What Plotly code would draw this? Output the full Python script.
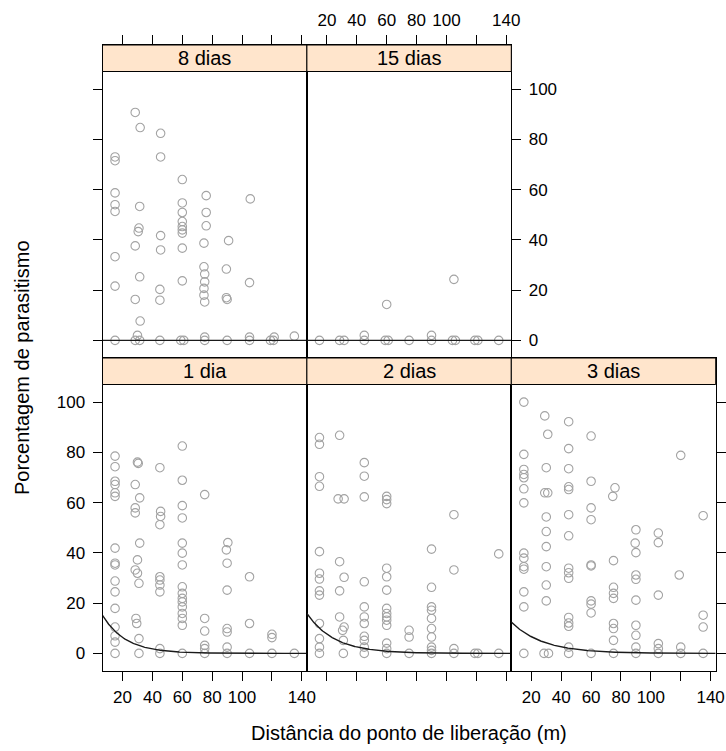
import numpy as np
import plotly.graph_objects as go

# ---------------- data ----------------
PANELS = ["1 dia", "2 dias", "3 dias", "8 dias", "15 dias"]

X_1DIA = ([15]*16 +
          [30, 30.5, 28.5, 31.5, 28.5, 28.5, 31.5, 30, 28.5, 30, 31, 29, 29.5, 31, 31] +
          [45, 45.5, 45.5, 45, 45, 45, 45, 45, 45, 45] +
          [60]*16 +
          [75]*6 +
          [90.5, 89.5, 90, 90, 90, 90, 90, 90] +
          [105]*3 + [120]*3 + [135])
Y_1DIA = ([78.5, 74.3, 68.5, 67.2, 63.9, 62.5, 41.9, 35.9, 35.2, 28.8, 24.5, 17.9, 10.5, 7, 4.5, 0] +
          [76.1, 75.6, 67.2, 61.9, 57.9, 55.9, 43.9, 37.2, 33.2, 31.9, 27.9, 13.9, 11.9, 5.9, 0] +
          [73.9, 56.5, 54.5, 51.2, 30.5, 29.2, 27.2, 24.5, 1.9, 0] +
          [82.5, 68.9, 58.8, 53.9, 43.9, 39.9, 35.2, 26.5, 23.9, 21.9, 20.5, 18.5, 15.9, 13.9, 11.2, 0] +
          [63.2, 13.9, 8.9, 3.2, 1.9, 0] +
          [44.1, 41.2, 35.9, 25.2, 9.9, 8.5, 2.5, 0] +
          [30.5, 11.9, 0] + [7.6, 6.3, 0] + [0])

X_2DIAS = ([15]*13 +
           [28.5, 27.5, 31.5, 28.5, 31.5, 28.5, 28.5, 31.5, 30.5, 31, 31] +
           [45]*11 +
           [60]*14 +
           [75]*3 +
           [90]*10 +
           [105]*4 + [119, 121] + [135, 135])
Y_2DIAS = ([85.9, 83.2, 70.3, 66.5, 40.5, 31.9, 29.6, 24.9, 23.2, 11.9, 5.9, 2.5, 0] +
           [86.8, 61.5, 61.5, 36.5, 30.3, 24.9, 14.5, 10.5, 9.2, 5.2, 0] +
           [75.9, 70.5, 62.3, 28.5, 18.5, 14.5, 11.9, 6.8, 5.2, 2.5, 0] +
           [62.5, 61.2, 59.6, 33.9, 30.5, 25.2, 17.9, 15.9, 14.5, 13.2, 11.2, 4.1, 1.9, 0] +
           [9.2, 6.5, 0] +
           [41.5, 26.3, 18.5, 17.2, 13.9, 9.9, 6.5, 2.5, 1.2, 0] +
           [55.2, 33.2, 1.9, 0] + [0, 0] + [39.6, 0])

X_3DIAS = ([15]*14 +
           [29, 31, 30, 29, 31, 30, 30, 30, 30, 30, 30, 28.5, 31.5] +
           [45]*15 +
           [60]*10 +
           [76, 74.5, 75, 75, 75, 75, 75, 75, 75, 75] +
           [90, 89.5, 90, 90, 90, 90, 90, 90, 90, 90] +
           [105]*6 + [120, 119, 120, 120] + [135]*4)
Y_3DIAS = ([100, 79.2, 73.2, 71.2, 69.9, 65.5, 59.9, 39.9, 37.9, 34.5, 33.5, 24.5, 18.5, 0] +
           [94.5, 87.2, 73.9, 63.9, 63.9, 54.3, 48.5, 42.5, 34.5, 27.2, 20.9, 0, 0] +
           [92.2, 81.5, 73.5, 66.3, 65.2, 55.2, 46.8, 33.9, 32.1, 29.9, 14.3, 12.1, 10.8, 2.5, 0] +
           [86.5, 68.5, 57.9, 53.2, 35.2, 34.8, 20.9, 19.6, 16.1, 0] +
           [65.9, 62.5, 36.9, 26.3, 23.9, 21.9, 11.9, 9.9, 5.2, 0] +
           [49.2, 43.9, 40.1, 31.2, 29.5, 21.2, 11.2, 7.2, 2.5, 0] +
           [47.9, 44.1, 23.2, 3.9, 1.9, 0] + [78.8, 31.2, 2.5, 0] + [54.8, 15.2, 10.5, 0])

X_8DIAS = ([15]*8 +
           [28.5, 31.8, 31.5, 31, 30.5, 28.5, 31.5, 28.5, 31.8, 30, 28.5, 31.5] +
           [45.5, 45.5, 45.5, 45.5, 45, 45, 45] +
           [60, 60, 60, 60, 60, 60, 60, 60, 60, 59, 61] +
           [76, 76, 76, 74.5, 74.5, 75, 75, 74.5, 74.5, 75, 75, 75] +
           [91, 89.5, 89.5, 90, 90] +
           [105.5, 105, 105, 105] + [121.5, 119, 121] + [135])
Y_8DIAS = ([73, 71.5, 58.7, 54, 51.3, 33.3, 21.6, 0] +
           [90.7, 84.7, 53.3, 44.7, 43.3, 37.6, 25.3, 16.3, 7.7, 2, 0, 0] +
           [82.4, 73, 41.7, 36, 20.3, 16, 0] +
           [64, 54.7, 50.9, 47.3, 45.3, 44, 42.7, 36.7, 23.7, 0, 0] +
           [57.6, 50.9, 45.6, 38.7, 29.3, 26.4, 23.3, 20.7, 18, 15.3, 1.3, 0] +
           [39.7, 28.4, 17, 16.3, 0] +
           [56.3, 23, 1.3, 0] + [1.3, 0, 0] + [1.7])

X_15DIAS = [15, 28.5, 31.5, 45, 45, 59, 61, 60, 75, 90, 90, 104, 106, 105, 119, 121, 135]
Y_15DIAS = [0, 0, 0, 0, 2, 0, 0, 14.3, 0, 0, 2, 0, 0, 24.3, 0, 0, 0]

# fitted decay curves  y = a * exp(-b * x)  (a = 0 -> flat line at zero)
FIT_A = [23.3, 22.8, 17.0, 0.0, 0.0]
FIT_B = [0.065, 0.0547, 0.047, 0.0, 0.0]

TICK_VALS = [20, 40, 60, 80, 100, 120, 140]
TICK_TEXT = ["20", "40", "60", "80", "100", "", "140"]
Y_TICKS = [0, 20, 40, 60, 80, 100]

XS = [X_1DIA, X_2DIAS, X_3DIAS, X_8DIAS, X_15DIAS]
YS = [Y_1DIA, Y_2DIAS, Y_3DIAS, Y_8DIAS, Y_15DIAS]

# ---------------- layout geometry (pixels) ----------------
W, H = 726, 751
COL_L = [102.5, 306.9, 511.3]
COL_W = 204.4
TOP_STRIP_TOP = 45.0
STRIP_H = 26.5
ROW_SPLIT = 358.0
BOTTOM = 671.0
PANEL_H = BOTTOM - ROW_SPLIT - STRIP_H

XMIN, XMAX = 6.6, 143.4
YMIN, YMAX = -7.0, 107.0
YMAX_EXT = YMAX + (YMAX - YMIN) * STRIP_H / PANEL_H

POS = [(0, 1), (1, 1), (2, 1), (0, 0), (1, 0)]  # (col, row) row 0 = top

FONT = "Liberation Sans, Arial, sans-serif"
PT_COLOR = "#a3a3a3"

fig = go.Figure()
layout = dict(width=W, height=H, margin=dict(l=0, r=0, t=0, b=0, pad=0),
              paper_bgcolor="white", plot_bgcolor="white", showlegend=False,
              font=dict(family=FONT, color="black"))
shapes, annotations = [], []

xgrid = np.linspace(XMIN, XMAX, 300)
for i, name in enumerate(PANELS):
    n = i + 1
    sfx = "" if n == 1 else str(n)
    col, row = POS[i]
    x0 = COL_L[col] / W
    x1 = (COL_L[col] + COL_W) / W
    if row == 0:
        ytop, ybot = TOP_STRIP_TOP, ROW_SPLIT
    else:
        ytop, ybot = ROW_SPLIT, BOTTOM
    yd = [1 - ybot / H, 1 - ytop / H]

    fig.add_trace(go.Scatter(x=XS[i], y=YS[i], mode="markers",
                             marker=dict(symbol="circle-open", size=8.5,
                                         color=PT_COLOR, line=dict(width=1.1, color=PT_COLOR)),
                             xaxis="x" + sfx, yaxis="y" + sfx, hoverinfo="skip"))
    fig.add_trace(go.Scatter(x=xgrid, y=FIT_A[i] * np.exp(-FIT_B[i] * xgrid), mode="lines",
                             line=dict(color="#1a1a1a", width=1.4),
                             xaxis="x" + sfx, yaxis="y" + sfx, hoverinfo="skip"))

    xa = dict(domain=[x0, x1], range=[XMIN, XMAX], anchor="y" + sfx,
              showline=True, linecolor="black", linewidth=1, mirror=True,
              showgrid=False, zeroline=False, automargin=False,
              ticks="outside", ticklen=9, tickwidth=1, tickcolor="black",
              tickmode="array", tickvals=TICK_VALS, ticktext=TICK_TEXT,
              tickfont=dict(size=17, family=FONT, color="black"), ticklabelstandoff=2)
    ya = dict(domain=yd, range=[YMIN, YMAX_EXT], anchor="x" + sfx,
              showline=True, linecolor="black", linewidth=1, mirror=True,
              showgrid=False, zeroline=False, automargin=False,
              ticks="outside", ticklen=9, tickwidth=1, tickcolor="black",
              tickmode="array", tickvals=Y_TICKS,
              tickfont=dict(size=17, family=FONT, color="black"), ticklabelstandoff=4)
    if row == 1:
        xa["side"] = "bottom"
        xa["showticklabels"] = (col != 1)
    else:
        xa["side"] = "top"
        xa["showticklabels"] = (col == 1)
    if name == "1 dia":
        ya["side"] = "left"
    elif name == "2 dias":
        ya["ticks"] = ""
        ya["showticklabels"] = False
    elif name == "3 dias":
        ya["side"] = "right"
        ya["showticklabels"] = False
    elif name == "8 dias":
        ya["side"] = "left"
        ya["showticklabels"] = False
    else:
        ya["side"] = "right"
    layout["xaxis" + sfx] = xa
    layout["yaxis" + sfx] = ya

    frac = PANEL_H / (PANEL_H + STRIP_H)
    shapes.append(dict(type="rect", xref="x%s domain" % sfx, yref="y%s domain" % sfx,
                       x0=0, x1=1, y0=frac, y1=1, fillcolor="#ffe5cc",
                       line=dict(color="black", width=1), layer="above"))
    annotations.append(dict(text=name, xref="x%s domain" % sfx, yref="y%s domain" % sfx,
                            x=0.5, y=(1 + frac) / 2, showarrow=False,
                            xanchor="center", yanchor="middle",
                            font=dict(size=20, family=FONT, color="black")))

annotations.append(dict(text="Porcentagem de parasitismo", xref="paper", yref="paper",
                        x=22 / W, y=1 - 368 / H, textangle=-90, showarrow=False,
                        xanchor="center", yanchor="middle",
                        font=dict(size=20, family=FONT, color="black")))
annotations.append(dict(text="Distância do ponto de liberação (m)", xref="paper", yref="paper",
                        x=(COL_L[0] + COL_L[2] + COL_W) / 2 / W, y=1 - 733 / H, showarrow=False,
                        xanchor="center", yanchor="middle",
                        font=dict(size=20, family=FONT, color="black")))

layout["shapes"] = shapes
layout["annotations"] = annotations
fig.update_layout(**layout)
fig.write_html("out.html", config={"displayModeBar": False},
               post_script="document.body.style.margin='0';document.body.style.padding='0';"
                           "document.documentElement.style.overflow='hidden';")
